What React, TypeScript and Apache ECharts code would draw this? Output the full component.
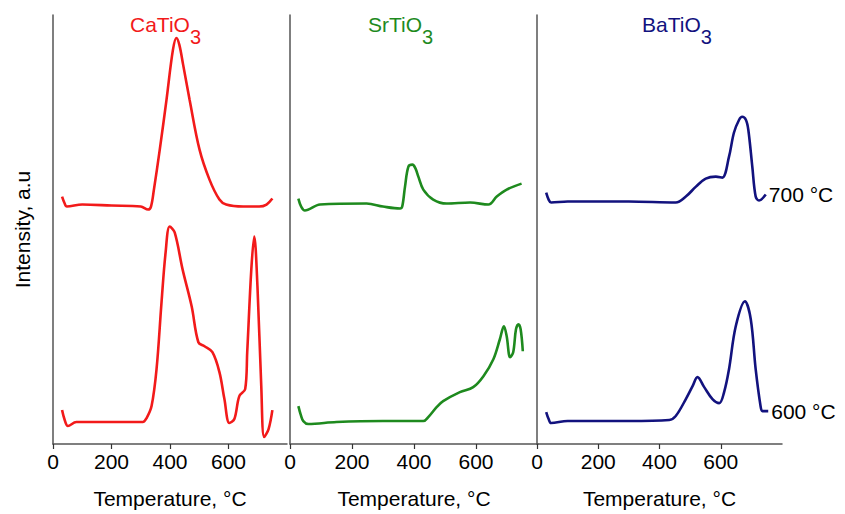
import React, { useEffect, useRef } from "react";
import * as echarts from "echarts";

const xTicks = [0, 200, 400, 600];
const panelTitles = ["CaTiO", "SrTiO", "BaTiO"];
const curveLabels = ["700 °C", "600 °C"];

const caT700 = [31, 40, 47, 100, 200, 300, 325, 335, 345, 365, 388, 410, 422, 432, 445, 467, 501, 535, 569, 592, 650, 705, 730, 750];
const ca700 = [248, 241, 238, 240, 239, 238, 235, 238, 255, 295, 345, 395, 407, 400, 380, 345, 295, 265, 245, 240, 238, 238, 240, 246];
const caT600 = [31, 40, 51, 80, 150, 250, 307, 320, 337, 354, 371, 385, 399, 416, 443, 474, 497, 518, 545, 569, 586, 603, 620, 637, 657, 664, 678, 688, 699, 712, 722, 737, 750];
const ca600 = [34, 24, 18, 22, 22, 22, 22, 26, 38, 75, 142, 192, 218, 212, 175, 138, 102, 98, 92, 72, 45, 21, 25, 48, 55, 92, 175, 208, 158, 58, 7, 15, 34];

const srT700 = [27, 36, 48, 97, 247, 300, 355, 362, 371, 382, 395, 405, 414, 430, 462, 505, 581, 640, 667, 699, 747];
const sr700 = [246, 238, 234, 240, 241, 238, 236, 238, 258, 278, 280, 276, 268, 255, 245, 241, 242, 240, 248, 255, 261];
const srT600 = [27, 35, 43, 59, 150, 300, 430, 446, 473, 494, 548, 591, 624, 656, 677, 690, 699, 710, 720, 729, 737, 744, 751];
const sr600 = [38, 29, 23, 20, 22, 23, 23, 27, 37, 43, 52, 57, 68, 85, 105, 118, 108, 87, 92, 115, 120, 115, 93];

const baT700 = [30, 38, 46, 100, 300, 453, 486, 519, 551, 584, 605, 627, 643, 660, 670, 682, 690, 703, 714, 725, 747];
const ba700 = [252, 245, 242, 243, 243, 242, 248, 258, 266, 268, 267, 288, 312, 325, 328, 325, 315, 278, 248, 244, 250];
const baT600 = [30, 38, 46, 100, 300, 432, 453, 486, 508, 524, 546, 573, 595, 611, 627, 649, 679, 698, 714, 730, 736, 755];
const ba600 = [32, 25, 21, 23, 23, 24, 28, 45, 58, 67, 57, 45, 41, 52, 75, 118, 143, 125, 75, 38, 33, 33];

const zip = (xs: number[], ys: number[]) => xs.map((x, i) => [x, ys[i]]);

const FONT = "Liberation Sans, Arial, sans-serif";
const colors = ["#f21a1a", "#1e8a1e", "#12127e"];
const grids = [
  { left: 53, top: 15, width: 234, height: 430 },
  { left: 290, top: 15, width: 248, height: 430 },
  { left: 537, top: 15, width: 245, height: 430 },
];
const titlePos = [130, 368, 642];

export default function App() {
  const ref = useRef<HTMLDivElement>(null);
  useEffect(() => {
    if (!ref.current) return;
    const chart = echarts.init(ref.current, null, { renderer: "svg" });
    const seriesData = [
      [zip(caT700, ca700), zip(caT600, ca600)],
      [zip(srT700, sr700), zip(srT600, sr600)],
      [zip(baT700, ba700), zip(baT600, ba600)],
    ];
    const series: any[] = [];
    seriesData.forEach((pair, p) => {
      pair.forEach((d, k) => {
        series.push({
          type: "line",
          xAxisIndex: p,
          yAxisIndex: p,
          data: d,
          showSymbol: false,
          smooth: 0.35,
          lineStyle: { color: colors[p], width: 2.6 },
          endLabel:
            p === 2
              ? {
                  show: true,
                  formatter: curveLabels[k],
                  color: "#000",
                  fontSize: 21,
                  fontFamily: FONT,
                  distance: 3,
                }
              : { show: false },
        });
      });
    });
    const option: any = {
      animation: false,
      backgroundColor: "#fff",
      grid: grids,
      xAxis: grids.map((_, i) => ({
        type: "value",
        gridIndex: i,
        min: 0,
        max: 800,
        interval: 200,
        name: "Temperature, °C",
        nameLocation: "middle",
        nameGap: 44,
        nameTextStyle: { fontSize: 21, color: "#000", fontFamily: FONT, verticalAlign: "top" },
        axisLine: { show: true, lineStyle: { color: "#555", width: 1.5 } },
        axisTick: { show: true, length: 5, customValues: xTicks, lineStyle: { color: "#333", width: 1.2 } },
        axisLabel: { customValues: xTicks, fontSize: 21, color: "#000", fontFamily: FONT, margin: 7 },
        splitLine: { show: false },
      })),
      yAxis: grids.map((_, i) => ({
        type: "value",
        gridIndex: i,
        min: 0,
        max: 430,
        name: i === 0 ? "Intensity, a.u" : "",
        nameLocation: "middle",
        nameGap: 20,
        nameTextStyle: { fontSize: 21, color: "#000", fontFamily: FONT },
        axisLine: { show: true, lineStyle: { color: "#555", width: 1.5 } },
        axisTick: { show: false },
        axisLabel: { show: false },
        splitLine: { show: false },
      })),
      graphic: panelTitles.map((t, i) => ({
        type: "text",
        left: titlePos[i],
        top: 14,
        style: {
          text: `{a|${t}}{b|3}`,
          rich: {
            a: { fontSize: 21, lineHeight: 22, verticalAlign: "top", fill: colors[i], fontFamily: FONT },
            b: { fontSize: 20, lineHeight: 33, verticalAlign: "bottom", fill: colors[i], fontFamily: FONT },
          },
        },
      })),
      series,
    };
    chart.setOption(option);
    return () => chart.dispose();
  }, []);
  return (
    <div
      ref={ref}
      style={{ position: "fixed", left: 0, top: 0, width: 845, height: 514, background: "#fff" }}
    />
  );
}
